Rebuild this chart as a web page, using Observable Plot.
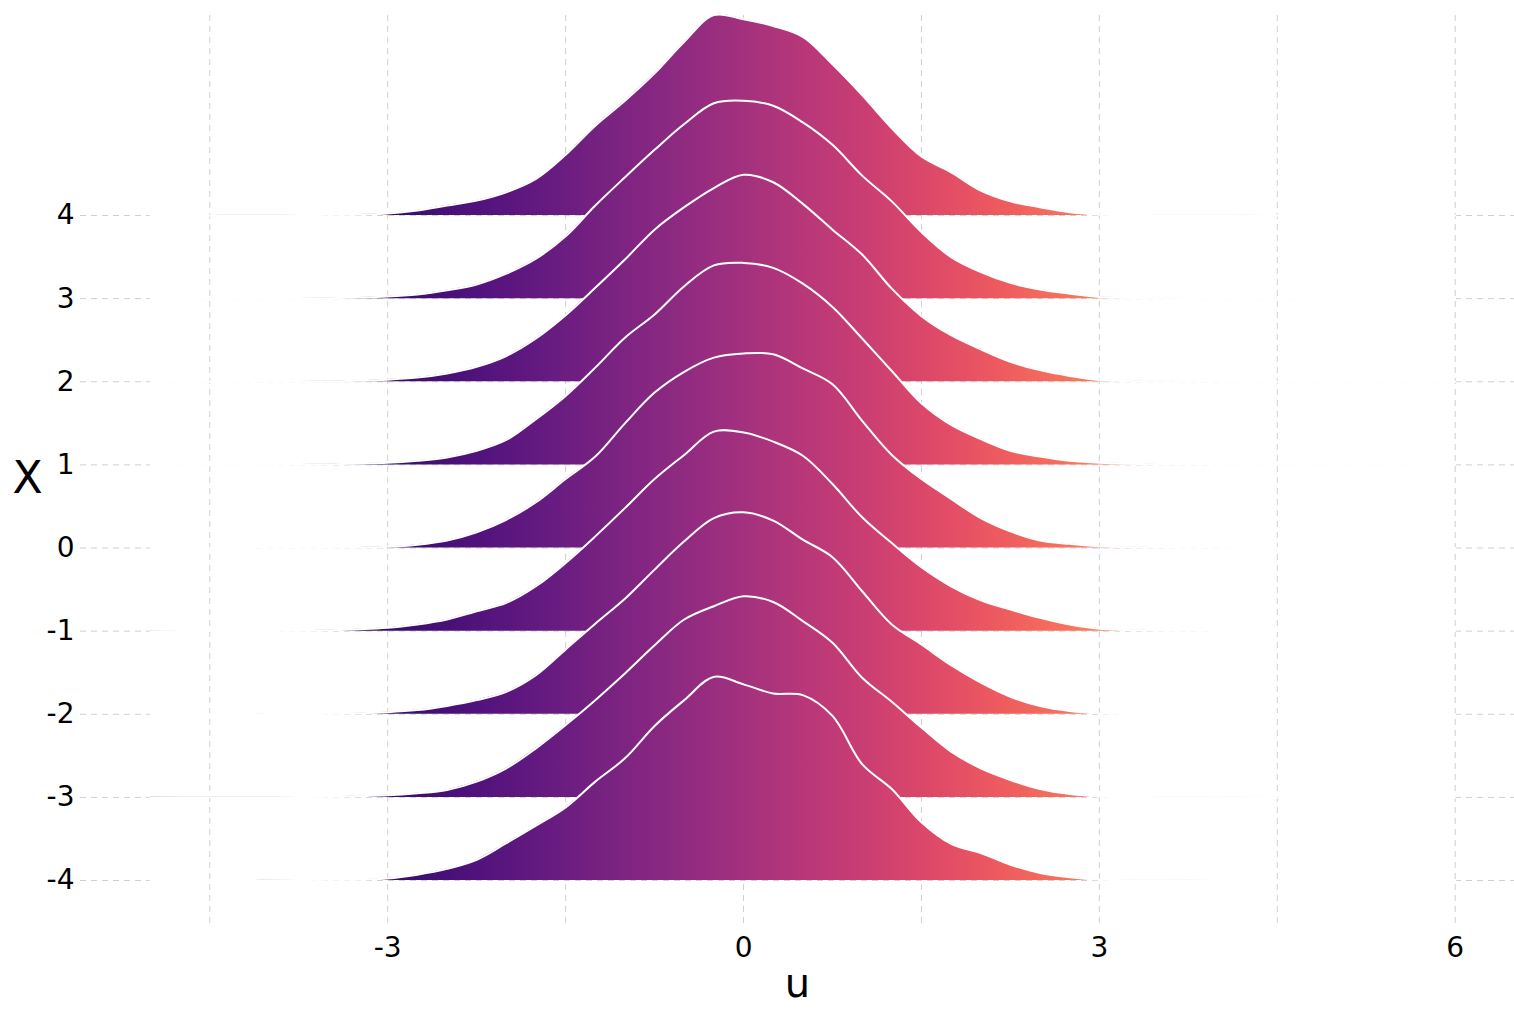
<!DOCTYPE html>
<html>
<head>
<meta charset="utf-8">
<script src="https://cdn.jsdelivr.net/npm/d3@7"></script>
<script src="https://cdn.jsdelivr.net/npm/@observablehq/plot@0.6"></script>
<style>
  html, body { margin: 0; padding: 0; background: #ffffff; }
  svg { display: block; }
</style>
</head>
<body>
<script>
// ---- data ----
const ridgeX = [4, 3, 2, 1, 0, -1, -2, -3, -4];          // categories (y)
const xTicks = [-3, 0, 3, 6];                               // labelled u ticks
const xGrid = [-4.5, -3, -1.5, 0, 1.5, 3, 4.5, 6];          // u grid lines
const uGrid = [-5, -4.5, -4, -3.5, -3, -2.75, -2.5, -2.25, -2, -1.75, -1.5, -1.25, -1, -0.75, -0.5, -0.25,
               0, 0.25, 0.5, 0.75, 1, 1.25, 1.5, 1.75, 2, 2.25, 2.5, 2.75, 3, 3.5, 4, 4.5, 5, 6];

// density heights (in units of X) at uGrid, one array per ridge
const dens4  = [0, 0.001, 0.003, 0.008, 0.025, 0.06, 0.12, 0.18, 0.28, 0.44, 0.73, 1.08, 1.38, 1.71, 2.09, 2.41, 2.36, 2.28, 2.15, 1.82, 1.45, 1.05, 0.71, 0.52, 0.30, 0.17, 0.10, 0.04, 0.012, 0.004, 0.002, 0.001, 0, 0];
const dens3  = [0, 0.001, 0.002, 0.006, 0.025, 0.05, 0.10, 0.17, 0.30, 0.48, 0.75, 1.12, 1.46, 1.79, 2.10, 2.35, 2.38, 2.32, 2.12, 1.85, 1.48, 1.17, 0.80, 0.50, 0.32, 0.19, 0.11, 0.06, 0.02, 0.005, 0.002, 0.001, 0, 0];
const dens2  = [0, 0.001, 0.002, 0.006, 0.025, 0.05, 0.10, 0.18, 0.31, 0.52, 0.80, 1.13, 1.47, 1.83, 2.10, 2.33, 2.49, 2.40, 2.14, 1.83, 1.53, 1.12, 0.79, 0.56, 0.39, 0.24, 0.14, 0.07, 0.02, 0.005, 0.002, 0.001, 0, 0];
const dens1  = [0, 0.001, 0.003, 0.008, 0.025, 0.05, 0.09, 0.17, 0.30, 0.55, 0.83, 1.17, 1.53, 1.81, 2.15, 2.40, 2.43, 2.37, 2.18, 1.90, 1.52, 1.13, 0.74, 0.48, 0.31, 0.17, 0.10, 0.05, 0.025, 0.006, 0.003, 0.002, 0.001, 0];
const dens0  = [0, 0.001, 0.002, 0.004, 0.015, 0.04, 0.09, 0.19, 0.34, 0.55, 0.83, 1.10, 1.50, 1.87, 2.12, 2.29, 2.34, 2.33, 2.16, 1.97, 1.53, 1.12, 0.83, 0.59, 0.36, 0.20, 0.09, 0.05, 0.02, 0.005, 0.002, 0.001, 0.001, 0];
const densM1 = [0, 0.001, 0.003, 0.01, 0.04, 0.08, 0.14, 0.24, 0.34, 0.54, 0.82, 1.14, 1.48, 1.83, 2.12, 2.40, 2.39, 2.28, 2.11, 1.77, 1.37, 1.06, 0.77, 0.54, 0.37, 0.26, 0.16, 0.08, 0.03, 0.008, 0.003, 0.002, 0.001, 0];
const densM2 = [0, 0.001, 0.002, 0.006, 0.025, 0.05, 0.10, 0.17, 0.27, 0.47, 0.78, 1.09, 1.39, 1.74, 2.08, 2.36, 2.43, 2.33, 2.10, 1.89, 1.48, 1.08, 0.84, 0.59, 0.38, 0.21, 0.10, 0.04, 0.012, 0.003, 0.001, 0, 0, 0];
const densM3 = [0, 0.001, 0.002, 0.008, 0.025, 0.05, 0.09, 0.19, 0.35, 0.59, 0.87, 1.17, 1.49, 1.83, 2.14, 2.30, 2.42, 2.35, 2.12, 1.86, 1.44, 1.15, 0.84, 0.55, 0.35, 0.21, 0.10, 0.04, 0.012, 0.003, 0.001, 0, 0, 0];
const densM4 = [0, 0.001, 0.002, 0.008, 0.025, 0.07, 0.14, 0.25, 0.45, 0.66, 0.88, 1.19, 1.47, 1.86, 2.17, 2.45, 2.36, 2.25, 2.23, 1.98, 1.40, 1.10, 0.70, 0.44, 0.33, 0.19, 0.09, 0.04, 0.012, 0.003, 0.001, 0, 0, 0];

const densities = [dens4, dens3, dens2, dens1, dens0, densM1, densM2, densM3, densM4];

// ---- build rows ----
const ridges = ridgeX.map((X, i) =>
  uGrid.map((u, j) => ({X, u, base: X, top: X + densities[i][j]}))
);

const gridColor = "#cfcfcf";
const dash = "6,5";

const marks = [
  Plot.gridX({ticks: xGrid, stroke: gridColor, strokeOpacity: 1, strokeWidth: 1, strokeDasharray: dash}),
  Plot.gridY({ticks: ridgeX, stroke: gridColor, strokeOpacity: 1, strokeWidth: 1, strokeDasharray: dash})
];
ridges.forEach(rows => {
  marks.push(Plot.areaY(rows, {x: "u", y1: "base", y2: "top", fill: "url(#ridgeGrad)", curve: "catmull-rom"}));
  marks.push(Plot.lineY(rows, {x: "u", y: "top", stroke: "white", strokeWidth: 2, curve: "catmull-rom"}));
});
marks.push(
  Plot.axisX({ticks: xTicks, tickSize: 0, tickPadding: 12, fontSize: 28, label: null, tickFormat: d => String(d)}),
  Plot.axisY({ticks: ridgeX, tickSize: 0, tickPadding: 6, fontSize: 28, label: null, tickFormat: d => String(d)}),
  Plot.text(["u"], {frameAnchor: "bottom", dy: 59, fontSize: 40, lineAnchor: "middle", fill: "black"}),
  Plot.text(["X"], {frameAnchor: "left", dx: -53, dy: 8, fontSize: 44, textAnchor: "middle", lineAnchor: "middle", fill: "black"})
);

const chart = Plot.plot({
  width: 1514,
  height: 1010,
  marginLeft: 80,
  marginRight: 0,
  marginTop: 15,
  marginBottom: 85,
  x: {domain: [-5.59, 6.5]},
  y: {domain: [-4.541, 6.406]},
  style: {fontFamily: "'DejaVu Sans', sans-serif", background: "white", color: "black"},
  marks
});

// horizontal magma gradient across the u range of the ridges
const xs = chart.scale("x");
const ns = "http://www.w3.org/2000/svg";
const defs = document.createElementNS(ns, "defs");
const grad = document.createElementNS(ns, "linearGradient");
grad.setAttribute("id", "ridgeGrad");
grad.setAttribute("gradientUnits", "userSpaceOnUse");
grad.setAttribute("x1", xs.apply(uGrid[0]));
grad.setAttribute("x2", xs.apply(uGrid[uGrid.length - 1]));
grad.setAttribute("y1", 0);
grad.setAttribute("y2", 0);
for (let k = 0; k <= 20; k++) {
  const t = k / 20;
  const stop = document.createElementNS(ns, "stop");
  stop.setAttribute("offset", t);
  stop.setAttribute("stop-color", d3.interpolateMagma(t));
  grad.appendChild(stop);
}
defs.appendChild(grad);
chart.insertBefore(defs, chart.firstChild);

document.body.appendChild(chart);
</script>
</body>
</html>
